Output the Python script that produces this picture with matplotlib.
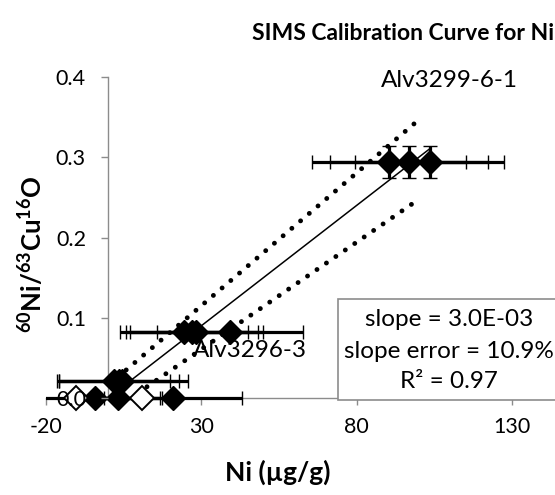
import matplotlib
matplotlib.use('Agg')
import matplotlib.pyplot as plt
from matplotlib.patches import Rectangle
import numpy as np

plt.rcParams['font.family'] = ['Lato', 'DejaVu Sans']
plt.rcParams['mathtext.fontset'] = 'custom'
plt.rcParams['mathtext.rm'] = 'Lato'
plt.rcParams['mathtext.bf'] = 'Lato:bold'

# ---------------- data ----------------
top_x = [90.3, 96.8, 103.5]
top_y = [0.294, 0.294, 0.294]
top_xerr = [24.8, 25.5, 24.0]
top_yerr = [0.0196, 0.0196, 0.0196]

mid_x = [24.5, 27.0, 28.4, 39.2]
mid_y = [0.0826, 0.0826, 0.0826, 0.0826]
mid_xerr = [20.6, 21.4, 21.3, 23.4]

low_x = [2.0, 3.5, 4.6]
low_y = [0.021, 0.021, 0.021]
low_xerr = [17.8, 19.2, 21.0]

zero_x = [-4.2, 3.2, 20.9]
zero_y = [0.0, 0.0, 0.0]
zero_xerr = [21.0, 14.2, 22.3]

open_x = [-10.5, 10.8]
open_y = [0.0, 0.0]

fit_slope, fit_intercept = 0.0030, 0.0
fit_x = [5.0, 103.5]
upper_slope, upper_intercept = 0.00331, 0.0157
upper_x = [3.0, 98.5]
lower_slope, lower_intercept = 0.00267, -0.0194
lower_x = [12.5, 98.0]

x_ticks = [-20, 30, 80, 130]
x_ticklabels = ['-20', '30', '80', '130']
y_ticks = [0.0, 0.1, 0.2, 0.3, 0.4]
y_ticklabels = ['0.0', '0.1', '0.2', '0.3', '0.4']

title = 'SIMS Calibration Curve for Ni'
xlabel = 'Ni (µg/g)'
ylabel = r'$\mathbf{{}^{60}Ni/{}^{63}Cu^{16}O}$'
label_top = 'Alv3299-6-1'
label_mid = 'Alv3296-3'
stats_lines = ['slope = 3.0E-03', 'slope error = 10.9%', 'R² = 0.97']

# ---------------- figure ----------------
W, H = 555, 495
fig = plt.figure(figsize=(W / 100, H / 100), dpi=100)
ax = fig.add_axes([46 / W, 1 - 398 / H, (512 - 46) / W, (398 - 77) / H])
ax.set_xlim(-20, 130)
ax.set_ylim(0, 0.4)

gray = '#8c8c8c'
for s in ['top', 'right']:
    ax.spines[s].set_visible(False)
ax.spines['left'].set_position(('data', 0))
ax.spines['left'].set_color(gray)
ax.spines['bottom'].set_color(gray)
ax.spines['left'].set_linewidth(1.0)
ax.spines['bottom'].set_linewidth(1.0)
ax.tick_params(axis='both', direction='out', length=5, width=1.0, color=gray,
               labelsize=15.5, labelcolor='black')
ax.tick_params(axis='y', pad=11)
ax.tick_params(axis='x', pad=9)
ax.set_xticks(x_ticks)
ax.set_xticklabels(x_ticklabels)
ax.set_yticks(y_ticks)
ax.set_yticklabels(y_ticklabels)
ax.yaxis.set_zorder(6)

clip_rect = Rectangle((0, -0.2), 1, 1.4, transform=ax.transAxes)

# fit & confidence lines
fx = np.array(fit_x)
ax.plot(fx, fit_slope * fx + fit_intercept, color='black', lw=1.1, zorder=2)
ux = np.array(upper_x)
ax.plot(ux, upper_slope * ux + upper_intercept, color='black', lw=3.5,
        linestyle=(0, (0.01, 2.35)), dash_capstyle='round', zorder=2)
lx = np.array(lower_x)
ax.plot(lx, lower_slope * lx + lower_intercept, color='black', lw=3.5,
        linestyle=(0, (0.01, 2.35)), dash_capstyle='round', zorder=2)

ms = 12
mew = 1.0
eb_kw = dict(fmt='D', color='black', ecolor='black', elinewidth=2.3, capsize=5,
             capthick=1.5, ms=ms, mew=mew, mfc='black', mec='black', zorder=3)

groups = [
    (zero_x, zero_y, zero_xerr, None),
    (low_x, low_y, low_xerr, None),
    (mid_x, mid_y, mid_xerr, None),
    (top_x, top_y, top_xerr, top_yerr),
]
for gx, gy, gxe, gye in groups:
    eb = ax.errorbar(gx, gy, xerr=gxe, yerr=gye, **eb_kw)
    for a in eb.get_children():
        a.set_clip_path(clip_rect)

ax.plot(open_x, open_y, linestyle='none', marker='D', ms=ms, mfc='white',
        mec='black', mew=1.4, zorder=4, clip_on=False)

# annotations
ax.text(109.7, 0.3955, label_top, fontsize=17.5, ha='center', va='center')
ax.text(45.8, 0.0597, label_mid, fontsize=17.5, ha='center', va='center')

# stats box (figure pixel coordinates)
box = Rectangle((338 / W, 1 - 400 / H), 230 / W, 101 / H, transform=fig.transFigure,
                facecolor='white', edgecolor=gray, lw=1.2, zorder=5)
fig.patches.append(box)
for txt, yp in zip(stats_lines, [320, 352, 382]):
    fig.text(449 / W, 1 - yp / H, txt, fontsize=17.5, ha='center', va='center', zorder=6)

# title and axis labels
fig.text(403 / W, 1 - 33 / H, title, fontsize=16.5, fontweight='bold',
         ha='center', va='center')
fig.text(278 / W, 1 - 472 / H, xlabel, fontsize=19, fontweight='bold',
         ha='center', va='center')
fig.text(33 / W, 1 - 254 / H, ylabel, fontsize=18.5, rotation=90,
         ha='center', va='center')

fig.savefig('out.png', dpi=100)
